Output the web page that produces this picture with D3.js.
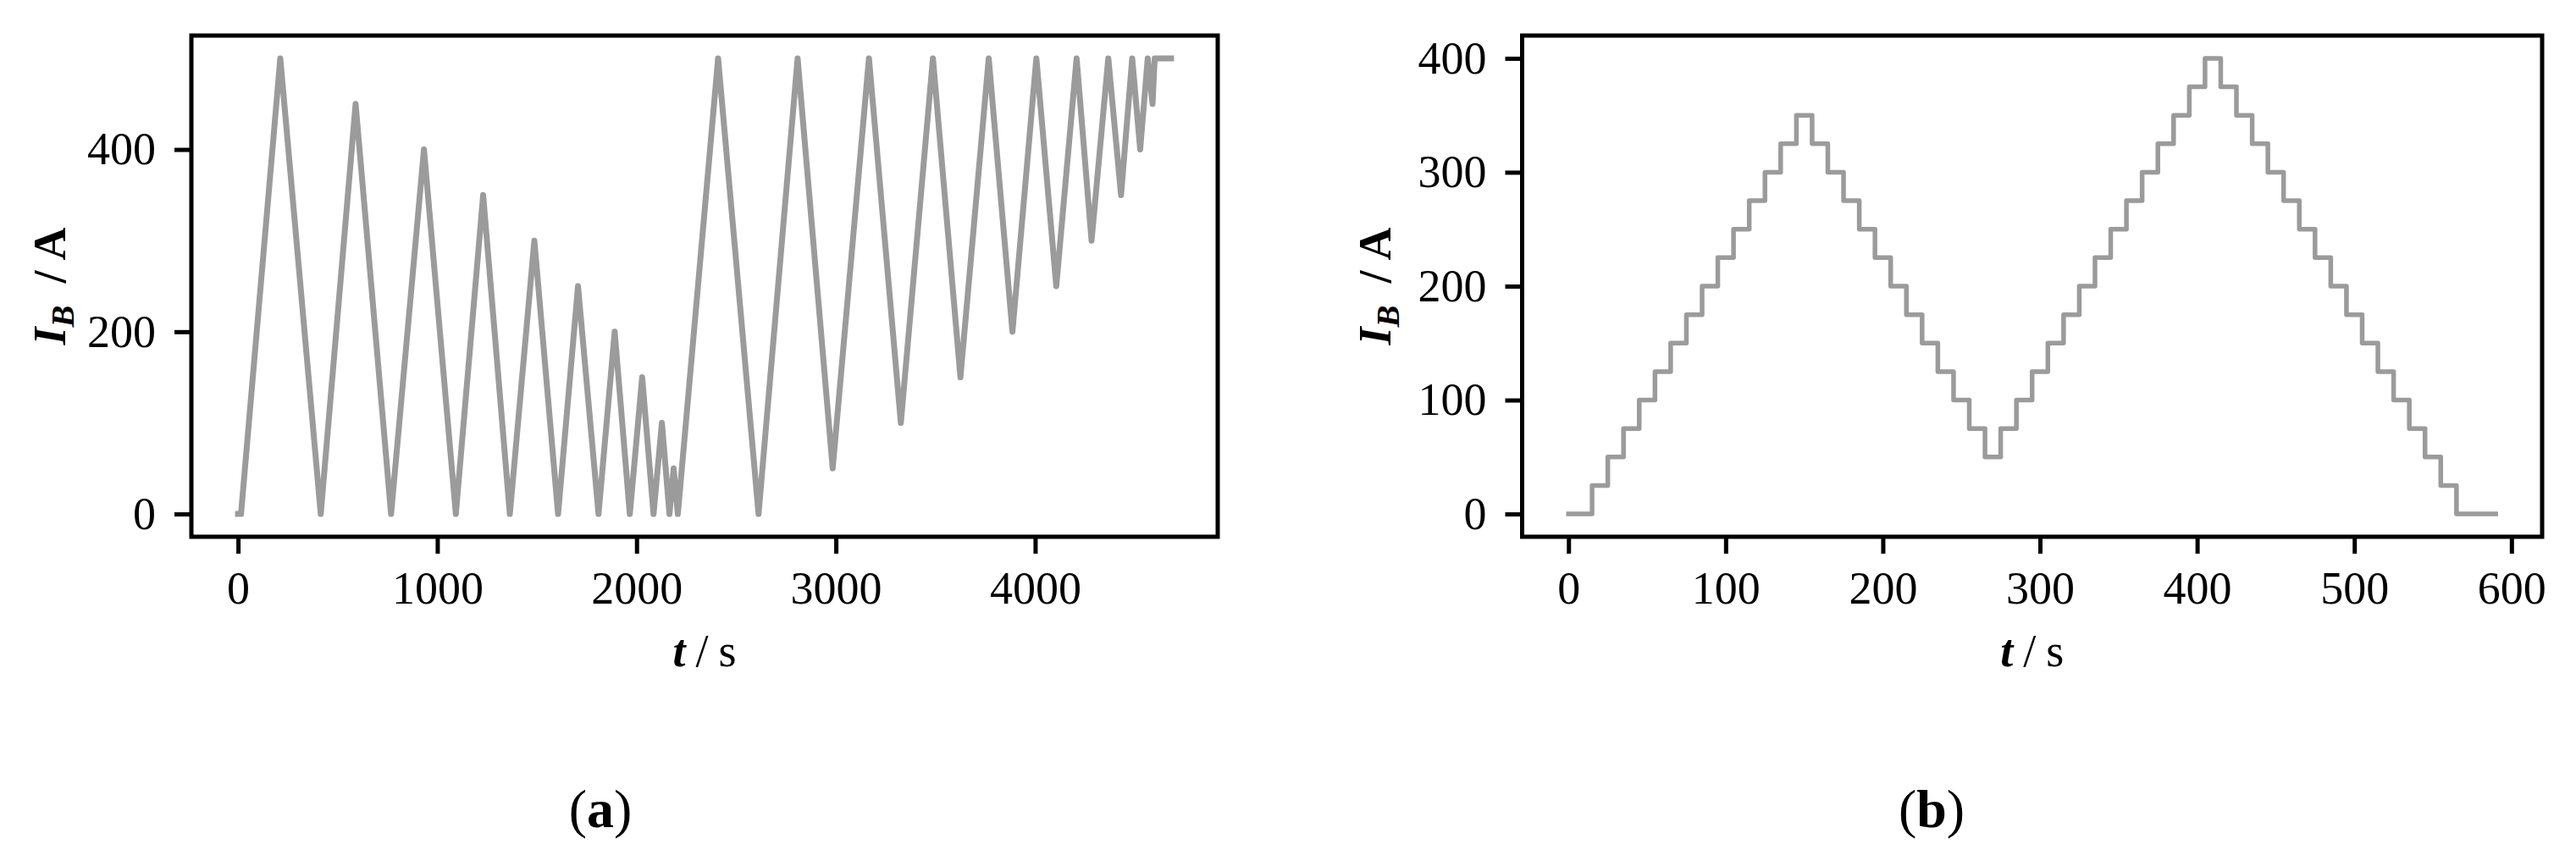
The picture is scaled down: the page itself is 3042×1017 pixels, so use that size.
<!DOCTYPE html>
<html>
<head>
<meta charset="utf-8">
<script src="https://cdn.jsdelivr.net/npm/d3@7"></script>
<style>
body { margin: 0; background: #fff; }
text { font-family: "Liberation Serif", "Times New Roman", serif; fill: #000; }
</style>
</head>
<body>
<svg id="svg"></svg>
<script>
var w = 3042, h = 1017

// (a) long cycling profile, turning points (t in s, I in A)
var timeA = [0, 15, 212, 415, 590, 768, 933, 1093, 1230, 1364, 1487, 1606, 1706, 1809,
    1890, 1966, 2028, 2085, 2127, 2165, 2186, 2207, 2409, 2612, 2808, 2984, 3166, 3326,
    3487, 3625, 3767, 3886, 4006, 4106, 4208, 4283, 4367, 4431, 4487, 4527, 4565, 4589,
    4600, 4682]
var currentA = [0, 0, 500, 0, 450, 0, 400, 0, 350, 0, 300, 0, 250, 0,
    200, 0, 150, 0, 100, 0, 50, 0, 500, 0, 500, 50, 500, 100,
    500, 150, 500, 200, 500, 250, 500, 300, 500, 350, 500, 400, 500, 450,
    500, 500]
var ticksXA = [0, 1000, 2000, 3000, 4000]
var ticksYA = [0, 200, 400]

// (b) detail: current steps of 25 A (value holds from that time on)
var timeB = [0, 15, 25, 35, 45, 55, 65, 75, 85, 95, 105, 115, 125, 135, 145,
    155, 165, 175, 185, 195, 205, 215, 225, 235, 245, 255, 265,
    275, 285, 295, 305, 315, 325, 335, 345, 355, 365, 375, 385, 395, 405,
    415, 425, 435, 445, 455, 465, 475, 485, 495, 505, 515, 525, 535, 545, 555, 565, 590]
var currentB = [0, 25, 50, 75, 100, 125, 150, 175, 200, 225, 250, 275, 300, 325, 350,
    325, 300, 275, 250, 225, 200, 175, 150, 125, 100, 75, 50,
    75, 100, 125, 150, 175, 200, 225, 250, 275, 300, 325, 350, 375, 400,
    375, 350, 325, 300, 275, 250, 225, 200, 175, 150, 125, 100, 75, 50, 25, 0, 0]
var ticksXB = [0, 100, 200, 300, 400, 500, 600]
var ticksYB = [0, 100, 200, 300, 400]

var lineColor = "#9b9b9b"
var fontSize = 54

function padded(ext)
{
    // matplotlib style 5% margins
    var m = (ext[1] - ext[0]) * 0.05
    return [ext[0] - m, ext[1] + m]
}

function drawPanel(svg, p)
{
    var top = 42, bottom = 634
    var x = d3.scaleLinear().domain(padded(d3.extent(p.t))).range([p.left, p.right])
    var y = d3.scaleLinear().domain(padded(d3.extent(p.v))).range([bottom, top])

    var pts = p.t.map(function(d, i){ return [d, p.v[i]] })
    var line = d3.line()
        .x(function(d){ return x(d[0]) })
        .y(function(d){ return y(d[1]) })
    if (p.step) line.curve(d3.curveStepAfter)

    svg.append("path")
        .datum(pts)
        .attr("d", line)
        .attr("fill", "none")
        .attr("stroke", lineColor)
        .attr("stroke-width", p.lw)
        .attr("stroke-linejoin", "round")
        .attr("stroke-linecap", "square")

    var gx = svg.append("g")
        .attr("transform", "translate(0," + bottom + ")")
        .call(d3.axisBottom(x).tickValues(p.xticks).tickFormat(d3.format("d"))
            .tickSize(20).tickSizeOuter(0).tickPadding(21))
    var gy = svg.append("g")
        .attr("transform", "translate(" + p.left + ",0)")
        .call(d3.axisLeft(y).tickValues(p.yticks).tickFormat(d3.format("d"))
            .tickSize(20).tickSizeOuter(0).tickPadding(22))

    ;[gx, gy].forEach(function(g){
        g.select(".domain").remove()
        g.selectAll(".tick line").attr("stroke", "#000").attr("stroke-width", 5)
        g.selectAll(".tick text")
            .attr("font-family", "Liberation Serif")
            .attr("font-size", fontSize)
            .attr("fill", "#000")
    })

    // frame
    svg.append("rect")
        .attr("x", p.left).attr("y", top)
        .attr("width", p.right - p.left).attr("height", bottom - top)
        .attr("fill", "none")
        .attr("stroke", "#000")
        .attr("stroke-width", 5)

    // x label
    var xl = svg.append("text")
        .attr("x", (p.left + p.right) / 2)
        .attr("y", 787)
        .attr("text-anchor", "middle")
        .attr("font-size", fontSize)
    xl.append("tspan").attr("font-style", "italic").attr("font-weight", "bold").text("t")
    xl.append("tspan").attr("dx", 12).text("/")
    xl.append("tspan").attr("dx", 12).text("s")

    // y label
    var yl = svg.append("text")
        .attr("transform", "translate(" + p.ylabX + "," + (top + bottom) / 2 + ") rotate(-90)")
        .attr("text-anchor", "middle")
        .attr("font-size", fontSize)
        .attr("font-weight", "bold")
    yl.append("tspan").attr("font-style", "italic").text("I")
    yl.append("tspan").attr("font-style", "italic").attr("font-size", fontSize * 0.72)
        .attr("dy", 10).text("B")
    yl.append("tspan").attr("dy", -10).attr("dx", 26).text("/")
    yl.append("tspan").attr("dx", 12).text("A")

    // caption
    var cap = svg.append("text")
        .attr("x", p.capX)
        .attr("y", 977)
        .attr("text-anchor", "middle")
        .attr("font-size", 64)
    cap.append("tspan").text("(")
    cap.append("tspan").attr("font-weight", "bold").text(p.cap)
    cap.append("tspan").text(")")
}

function init()
{
    var svg = d3.select("#svg")
        .attr("width", w)
        .attr("height", h)

    svg.append("rect")
        .attr("width", w).attr("height", h)
        .attr("fill", "#fff")

    drawPanel(svg, { t: timeA, v: currentA, xticks: ticksXA, yticks: ticksYA,
        left: 226, right: 1438, ylabX: 77, capX: 709, cap: "a", step: false, lw: 7 })
    drawPanel(svg, { t: timeB, v: currentB, xticks: ticksXB, yticks: ticksYB,
        left: 1797.5, right: 3002, ylabX: 1642, capX: 2281, cap: "b", step: true, lw: 5.5 })
}

init()
</script>
</body>
</html>
